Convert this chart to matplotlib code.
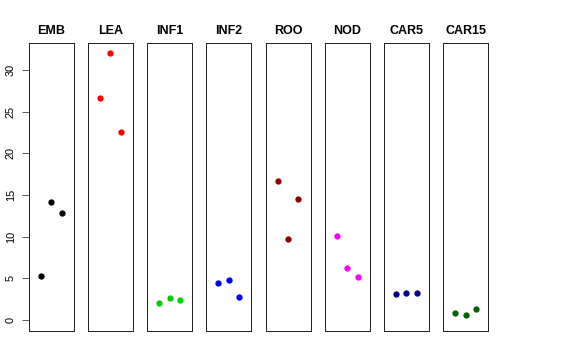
import numpy as np
import matplotlib
matplotlib.use("Agg")
import matplotlib.pyplot as plt

plt.rcParams.update({
    "font.family": ["Liberation Sans", "DejaVu Sans"],
})

# tissue groups, three replicates each
tissues = ["EMB", "LEA", "INF1", "INF2", "ROO", "NOD", "CAR5", "CAR15"]
colors = ["black", "#FF0000", "#00CD00", "#0000FF", "#8B0000", "#FF00FF", "#00008B", "#006400"]
values = [
    [5.3, 14.2, 12.9],
    [26.7, 32.0, 22.6],
    [2.1, 2.7, 2.4],
    [4.4, 4.8, 2.8],
    [16.7, 9.7, 14.5],
    [10.1, 6.3, 5.2],
    [3.1, 3.3, 3.2],
    [0.8, 0.6, 1.3],
]
reps = [1, 2, 3]

W, H = 576, 360
fig = plt.figure(figsize=(W / 72, H / 72), dpi=72)

left0, pitch, width = 28.7, 59.2, 45.0
top, bottom = 43, 331

for i, (name, col, vals) in enumerate(zip(tissues, colors, values)):
    ax = fig.add_axes([(left0 + pitch * i) / W, (H - bottom) / H,
                       width / W, (bottom - top) / H])
    ax.plot(reps, vals, "o", color=col, ms=6.3, mec="none")
    ax.set_xlim(-0.16, 4.16)
    ax.set_ylim(-1.32, 33.24)
    ax.set_xticks([])
    for sp in ax.spines.values():
        sp.set_linewidth(1.0)
        sp.set_color("#222222")
    ax.set_title(name, fontsize=12.5, fontweight="bold", pad=9)
    if i == 0:
        ax.set_yticks([0, 5, 10, 15, 20, 25, 30])
        ax.tick_params(axis="y", length=7, width=0.8, labelsize=11,
                       colors="#333333", labelcolor="black", pad=6)
        for lab in ax.get_yticklabels():
            lab.set_rotation(90)
            lab.set_va("center")
    else:
        ax.set_yticks([])

fig.savefig("out.png", dpi=72)
